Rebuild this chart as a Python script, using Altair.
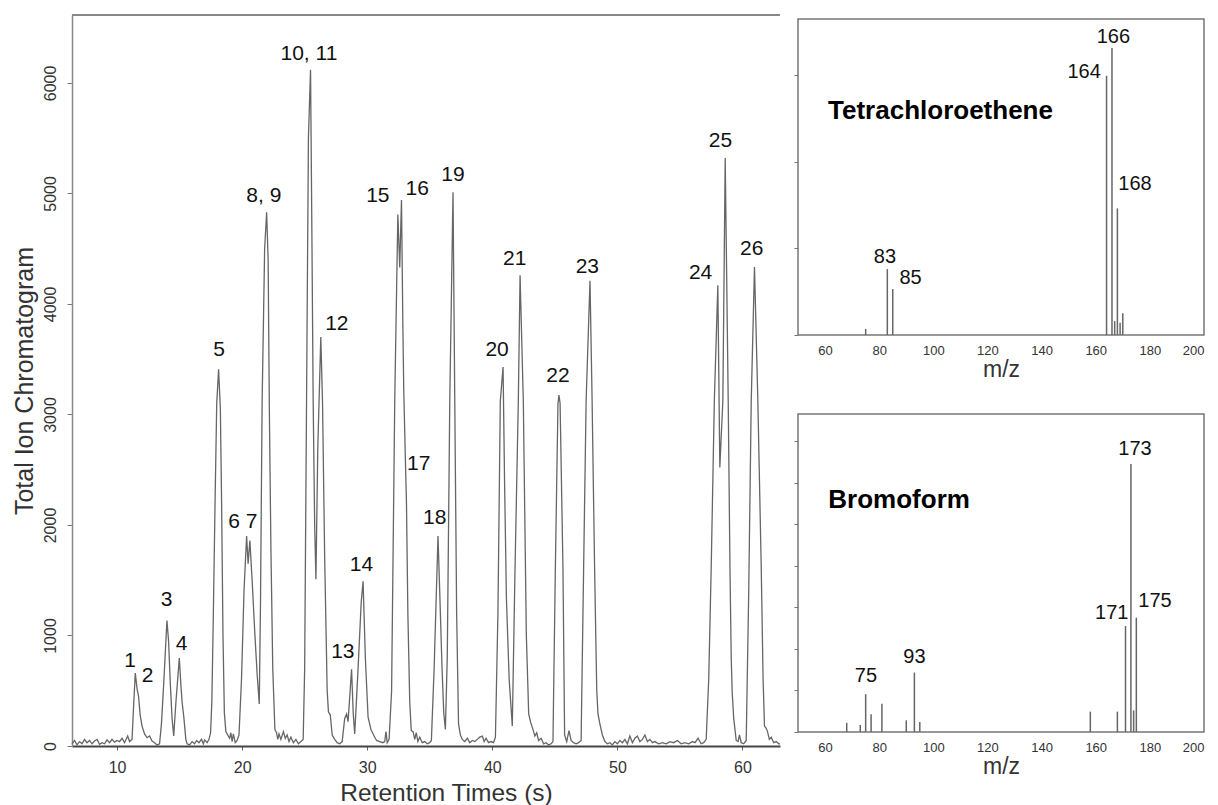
import altair as alt
import pandas as pd

# ---------------- main chromatogram trace ----------------
rt = [6.4, 6.6, 6.8, 7.0, 7.2, 7.4, 7.6, 7.8, 8.0, 8.2, 8.4, 8.6, 8.8, 9.0, 9.2, 9.4, 9.6, 9.8,
      10.0, 10.2, 10.4, 10.6, 10.85, 11.0, 11.2,
      11.32, 11.46, 11.6, 11.72, 11.85, 12.0, 12.2, 12.4, 12.6, 12.8, 13.0, 13.2, 13.4,
      13.55, 13.73, 13.99, 14.12, 14.26, 14.4, 14.53, 14.71, 14.98, 15.1, 15.2, 15.35, 15.5, 15.6,
      15.8, 16.0, 16.2, 16.36, 16.55, 16.75, 16.9, 17.0, 17.2, 17.35,
      17.48, 17.58, 17.7, 17.85, 17.97, 18.12, 18.26, 18.36, 18.47, 18.58, 18.7, 18.85, 19.0,
      19.1, 19.2, 19.3, 19.45, 19.6,
      19.75, 19.95, 20.15, 20.36, 20.48, 20.62, 20.8, 21.02, 21.2, 21.37,
      21.47, 21.6, 21.8, 21.96, 22.08, 22.17, 22.3, 22.45, 22.62, 22.75, 22.85, 22.95, 23.1,
      23.3, 23.45, 23.6, 23.75, 23.9, 24.1, 24.3, 24.5, 24.7,
      24.88, 25.0, 25.15, 25.3, 25.47, 25.58, 25.68, 25.8, 25.9, 26.05, 26.29, 26.43, 26.6,
      26.8, 26.9, 27.05, 27.2, 27.4, 27.6, 27.8, 28.0, 28.2, 28.35, 28.47, 28.75, 28.88, 29.0,
      29.27, 29.52, 29.67, 29.85, 30.07, 30.3, 30.55, 30.75, 31.0, 31.25, 31.4, 31.5, 31.6,
      31.75, 31.95, 32.2, 32.45, 32.6, 32.74, 32.85, 32.92, 33.05, 33.14, 33.25, 33.4, 33.52,
      33.67, 33.8, 33.92, 34.05, 34.2, 34.4, 34.6, 34.8, 35.0,
      35.13, 35.35, 35.66, 35.85, 35.98, 36.12, 36.25, 36.4, 36.6, 36.86, 37.0, 37.15, 37.3,
      37.45, 37.6, 37.8, 38.0, 38.2, 38.4, 38.6, 38.8, 39.0, 39.2, 39.35, 39.5, 39.7, 39.9, 40.1,
      40.25, 40.45, 40.64, 40.86, 40.98, 41.13, 41.35, 41.6, 41.8, 42.08, 42.22, 42.48, 42.72,
      42.91, 43.05, 43.25, 43.4, 43.55, 43.7, 43.9, 44.1, 44.3, 44.5, 44.7,
      44.85, 45.04, 45.25, 45.33, 45.42, 45.65, 45.78, 45.95, 46.13, 46.3, 46.5, 46.7, 46.9,
      47.1, 47.3, 47.5, 47.81, 47.98, 48.18, 48.35, 48.45, 48.6, 48.8, 49.0, 49.2,
      49.4, 49.6, 49.8, 50.0, 50.2, 50.4, 50.6, 50.8, 51.0, 51.2, 51.4, 51.6, 51.8, 52.0, 52.2,
      52.4, 52.6, 52.8, 53.0, 53.3, 53.6, 53.9, 54.2, 54.5, 54.8, 55.1, 55.4, 55.7, 56.0, 56.2,
      56.45, 56.7, 56.9,
      57.1, 57.3, 57.5, 57.75, 58.03, 58.19, 58.43, 58.62, 58.86, 59.0, 59.1, 59.18, 59.3, 59.5,
      59.65, 59.76, 59.9, 60.1,
      60.3, 60.5, 60.7, 60.96, 61.23, 61.5, 61.65, 61.76, 61.9, 62.0, 62.15, 62.3, 62.5, 62.7,
      62.9, 63.0]

tic = [20, 50, 10, 40, 20, 60, 30, 50, 20, 45, 60, 15, 30, 20, 55, 30, 60, 35,
       50, 40, 70, 30, 90, 40, 60,
       350, 660, 520, 450, 280, 180, 110, 75, 90, 45, 30, 10, 20,
       200, 560, 1135, 950, 560, 250, 90, 400, 795, 560, 400, 250, 60, 20,
       10, 40, 20, 50, 30, 60, 20, 55, 30, 60,
       120, 400, 1200, 2300, 3100, 3410, 3050, 2200, 1000, 300, 130, 100, 70,
       120, 40, 110, 30, 50,
       100, 600, 1400, 1900, 1650, 1860, 1500, 1010, 650, 380,
       1300, 3120, 4500, 4830, 4400, 3120, 1800, 700, 150, 120, 60, 110, 60,
       130, 70, 100, 40, 80, 30, 60, 20, 40,
       60, 700, 3120, 5500, 6120, 4600, 3120, 2000, 1510, 2700, 3700, 3100, 1700,
       500, 310, 280, 100, 60, 30, 20, 40, 250, 290, 220, 695, 300, 110,
       700, 1300, 1490, 800, 260, 150, 90, 50, 40, 30, 40, 130, 30,
       60, 500, 3120, 4810, 4330, 4940, 3800, 3230, 2600, 2190, 1200, 400, 140,
       130, 60, 120, 40, 80, 30, 40, 20, 30,
       50, 700, 1900, 1200, 710, 300, 150, 800, 3120, 5010, 3120, 1200, 200,
       100, 60, 40, 70, 30, 50, 40, 60, 80, 90, 40, 70, 30, 40, 30,
       80, 1200, 3120, 3430, 2400, 1330, 600, 180, 1500, 3120, 4260, 3120, 1010,
       290, 220, 150, 90, 120, 50, 70, 20, 30, 10, 20,
       40, 1600, 3100, 3175, 3100, 1600, 100, 40, 140, 50, 30, 20, 30,
       50, 1600, 3120, 4210, 3120, 1600, 500, 290, 200, 100, 40, 20,
       30, 10, 40, 20, 50, 30, 60, 20, 90, 30, 70, 90, 40, 60, 100,
       40, 60, 30, 40, 20, 30, 20, 40, 30, 50, 20, 30, 20, 40, 30,
       70, 20, 30,
       60, 600, 1610, 3120, 4170, 2520, 3120, 5320, 3120, 1610, 800, 480, 250, 50,
       40, 100, 30, 20,
       50, 1400, 3120, 4335, 3120, 1610, 600, 180, 160, 130, 60, 80, 30, 40,
       20, 20]

peak_names = ["1", "2", "3", "4", "5", "6 7", "8, 9", "10, 11", "12", "13", "14", "15", "16",
              "17", "18", "19", "20", "21", "22", "23", "24", "25", "26"]
peak_rt = [11.04, 12.45, 13.97, 15.17, 18.15, 20.06, 21.74, 25.34, 27.57, 28.05, 29.54, 30.85,
           33.99, 34.12, 35.4, 36.86, 40.38, 41.79, 45.25, 47.6, 56.65, 58.24, 60.74]
peak_tic = [769, 634, 1321, 923, 3584, 2030, 4978, 6263, 3819, 853, 1638, 4978,
            5041, 2555, 2061, 5168, 3581, 4405, 3349, 4338, 4283, 5475, 4495]

# ---------------- inset spectra ----------------
tce_mz = [75, 83, 85, 164, 166, 167, 168, 169, 170]
tce_ab = [0.07, 0.76, 0.53, 2.99, 3.31, 0.16, 1.46, 0.14, 0.25]
tce_lab = ["83", "85", "164", "166", "168"]
tce_lab_mz = [82.1, 91.6, 155.7, 166.5, 174.5]
tce_lab_ab = [0.90, 0.66, 3.03, 3.44, 1.74]

brm_mz = [68, 73, 75, 77, 81, 90, 93, 95, 158, 168, 171, 173, 174, 175]
brm_ab = [0.22, 0.17, 0.91, 0.43, 0.68, 0.28, 1.43, 0.24, 0.49, 0.49, 2.55, 6.45, 0.52, 2.75]
brm_lab = ["75", "93", "171", "173", "175"]
brm_lab_mz = [75.1, 93.0, 165.9, 174.5, 181.9]
brm_lab_ab = [1.35, 1.80, 2.87, 6.82, 3.15]

FONT = "Liberation Sans"
LINE = "#666666"

# ---------------- main chart ----------------
W_MAIN, H_MAIN = 708, 731
trace = pd.DataFrame({"rt": rt, "tic": tic})
peaks = pd.DataFrame({"rt": peak_rt, "tic": peak_tic, "name": peak_names})

x_main = alt.X("rt:Q",
               scale=alt.Scale(domain=[6.4, 63.0], nice=False, zero=False),
               axis=alt.Axis(values=[10, 20, 30, 40, 50, 60], grid=False, title="Retention Times (s)",
                             domainColor="#444444", domainWidth=2, tickColor="#666666", tickSize=4,
                             labelFontSize=16, labelColor="#333333", labelPadding=9,
                             titleFontSize=24.5, titleFontWeight="normal", titleColor="#333333",
                             titleX=374, titleY=54, titleBaseline="alphabetic", titleAlign="center"))
y_main = alt.Y("tic:Q",
               scale=alt.Scale(domain=[0, 6615], nice=False),
               axis=alt.Axis(values=[0, 1000, 2000, 3000, 4000, 5000, 6000], format="d", grid=False,
                             title="Total Ion Chromatogram", labelAngle=270, labelAlign="center",
                             labelBaseline="bottom", labelFontSize=16, labelColor="#333333",
                             labelPadding=9, tickSize=5, tickColor="#777777",
                             domainColor="#888888", domainWidth=1.5,
                             titleFontSize=25, titleFontWeight="normal", titleColor="#333333",
                             titleAngle=270, titleX=-40, titleBaseline="alphabetic",
                             titleAlign="center"))

trace_line = alt.Chart(trace).mark_line(color=LINE, strokeWidth=1.3).encode(x=x_main, y=y_main)
peak_text = alt.Chart(peaks).mark_text(font=FONT, fontSize=21, color="#111111").encode(
    x=x_main, y=y_main, text="name:N")
top_border = alt.Chart(pd.DataFrame({"k": [0]})).mark_rule(color="#888888", strokeWidth=2).encode(
    x=alt.value(0), x2=alt.value(W_MAIN), y=alt.value(0))

main = alt.layer(trace_line, peak_text, top_border).properties(
    width=W_MAIN, height=H_MAIN, view=alt.ViewBackground(stroke="transparent"))

# ---------------- insets ----------------
W_IN = 406


def spectrum(mz, ab, lab, lab_mz, lab_ab, name, name_mz, name_ab, ymax, yticks, height):
    bars = pd.DataFrame({"mz": mz, "ab": ab})
    labs = pd.DataFrame({"mz": lab_mz, "ab": lab_ab, "t": lab})
    ttl = pd.DataFrame({"mz": [name_mz], "ab": [name_ab], "t": [name]})
    xs = alt.X("mz:Q", scale=alt.Scale(domain=[50, 200], nice=False, zero=False),
               axis=alt.Axis(values=[60, 80, 100, 120, 140, 160, 180, 200], grid=False,
                             domain=False, ticks=False, labelFontSize=13, labelColor="#333333",
                             labelPadding=9, title="m/z", titleFontSize=23,
                             titleFontWeight="normal", titleColor="#333333", titlePadding=1))
    ys = alt.Y("ab:Q", scale=alt.Scale(domain=[0, ymax], nice=False),
               axis=alt.Axis(values=yticks, grid=False, labels=False, domain=False,
                             tickSize=4, tickColor="#777777", title=None))
    r = alt.Chart(bars).mark_rule(color=LINE, strokeWidth=1.5).encode(x=xs, y=ys, y2=alt.datum(0))
    t = alt.Chart(labs).mark_text(font=FONT, fontSize=20, color="#111111").encode(
        x=xs, y=ys, text="t:N")
    n = alt.Chart(ttl).mark_text(font=FONT, fontSize=26, fontWeight="bold", color="#000000",
                                 align="left", baseline="alphabetic").encode(x=xs, y=ys, text="t:N")
    return alt.layer(r, t, n).properties(
        width=W_IN, height=height,
        view=alt.ViewBackground(stroke="#777777", strokeWidth=1.5))


tce = spectrum(tce_mz, tce_ab, tce_lab, tce_lab_mz, tce_lab_ab, "Tetrachloroethene",
               61.1, 2.49, 3.645, [0, 1, 2, 3], 316)
brm = spectrum(brm_mz, brm_ab, brm_lab, brm_lab_mz, brm_lab_ab, "Bromoform",
               61.2, 5.40, 7.65, [0, 1, 2, 3, 4, 5, 6, 7], 318)

# invisible 2px spacer so that the inset frames start a little below the main frame
spacer = alt.Chart(pd.DataFrame({"k": [0]})).mark_point(opacity=0, size=1).encode(
    x=alt.value(20), y=alt.value(1)).properties(
    width=W_IN, height=2, view=alt.ViewBackground(stroke="transparent"))

insets = alt.vconcat(spacer, alt.vconcat(tce, brm, spacing=79, bounds="flush"),
                     spacing=2, bounds="flush")

chart = alt.hconcat(main, insets, spacing=18, bounds="flush").properties(
    padding={"left": 11, "top": 13, "right": 0, "bottom": 0},
    background="white",
).configure_axis(labelFont=FONT, titleFont=FONT).configure_text(font=FONT)

chart.save("out.html", embed_options={"renderer": "svg", "actions": False})
